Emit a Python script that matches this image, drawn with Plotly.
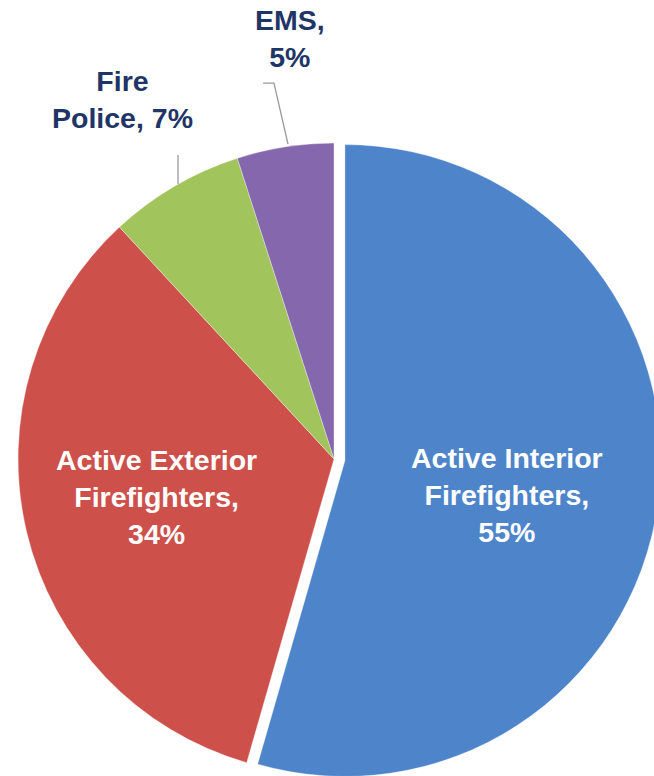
import plotly.graph_objects as go

# ---- data ----
categories = ["Active Interior Firefighters", "Active Exterior Firefighters", "Fire Police", "EMS"]
label_lines = [["Active Interior", "Firefighters,"], ["Active Exterior", "Firefighters,"], ["Fire", "Police,"], ["EMS,"]]
values = [55, 34, 7, 5]
pulls = [0.035, 0, 0, 0]
colors = ["#4d84ca", "#cd504b", "#a1c45d", "#8567ad"]

# figure is a bit larger than the 654x776 window; the overflow is clipped
W, H = 680, 800
CX, CY, BOX = 334, 459, 654  # pie box centre / size in pixels (from top-left)

def px(x, y):
    return x / W, 1 - y / H

fig = go.Figure()
fig.add_trace(go.Pie(
    labels=categories,
    values=values,
    sort=False,
    direction="clockwise",
    rotation=0,
    pull=pulls,
    marker=dict(colors=colors, line=dict(color="rgba(255,255,255,0.35)", width=1)),
    textinfo="none",
    hoverinfo="label+percent",
    showlegend=False,
    domain=dict(x=[(CX - BOX / 2) / W, (CX + BOX / 2) / W],
                y=[1 - (CY + BOX / 2) / H, 1 - (CY - BOX / 2) / H]),
))

# label positions (pixel centres)
label_pos = [(507, 495), (156, 497), (122, 99), (290, 39)]
label_col = ["white", "white", "#1f3566", "#1f3566"]

for i, cat in enumerate(categories):
    lines = list(label_lines[i])
    pct = f"{values[i]}%"
    if i == 2:
        lines[-1] = lines[-1] + " " + pct
    else:
        lines.append(pct)
    x, y = px(*label_pos[i])
    fig.add_annotation(
        x=x, y=y, xref="paper", yref="paper",
        text="<br>".join(f"<b>{l}</b>" for l in lines),
        showarrow=False, xanchor="center", yanchor="middle", align="center",
        font=dict(family="Liberation Sans, Arial, sans-serif", size=28.5, color=label_col[i]),
    )

# leader lines for the two small slices
def path(points):
    d = ""
    for j, (x, y) in enumerate(points):
        xx, yy = px(x, y)
        d += ("M" if j == 0 else " L") + f" {xx:.4f},{yy:.4f}"
    return d

fig.add_shape(type="path", xref="paper", yref="paper",
              path=path([(263, 83), (274, 83), (288, 144)]),
              line=dict(color="#9a9a9a", width=1.3))
fig.add_shape(type="path", xref="paper", yref="paper",
              path=path([(178, 155), (178, 184)]),
              line=dict(color="#9a9a9a", width=1.3))

fig.update_layout(
    width=W, height=H,
    margin=dict(l=0, r=0, t=0, b=0),
    paper_bgcolor="white",
    plot_bgcolor="white",
)

fig.write_html("out.html",
               config={"displayModeBar": False},
               post_script="document.body.style.margin='0';document.body.style.overflow='hidden';")
